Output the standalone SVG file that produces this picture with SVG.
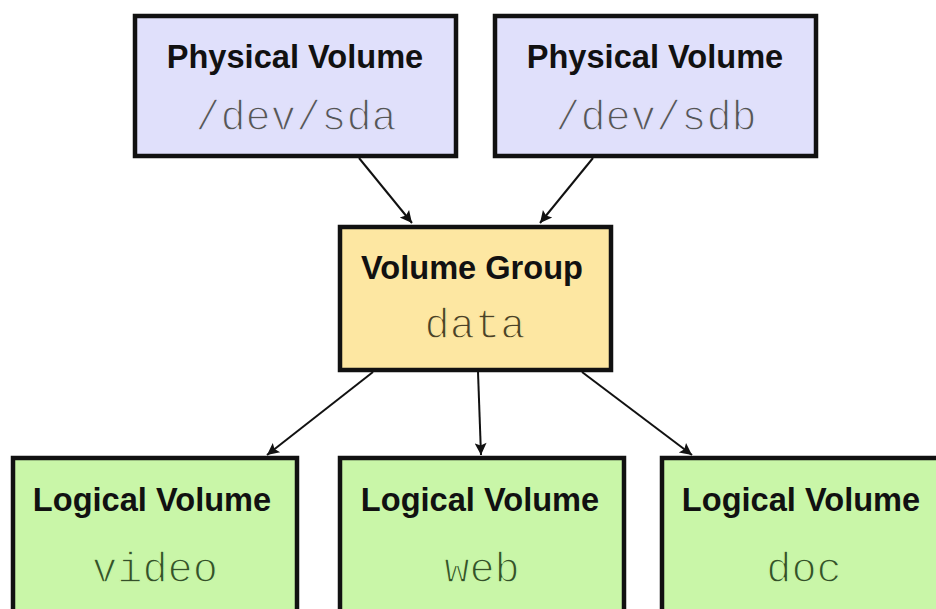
<svg xmlns="http://www.w3.org/2000/svg" width="936" height="609" viewBox="0 0 936 609">
  <defs>
    <marker id="arrow" viewBox="0 0 10 10" refX="10" refY="5" markerWidth="7" markerHeight="6" markerUnits="strokeWidth" orient="auto">
      <path d="M0,0 L10,5 L0,10 L2,5 Z" fill="#111"/>
    </marker>
    <style>
      .box { stroke: #111; stroke-width: 4.5; }
      .pv { fill: #e0e0fb; }
      .vg { fill: #fde7a2; }
      .lv { fill: #c9f6a8; }
      .title { font-family: "Liberation Sans", Arial, sans-serif; font-weight: bold; font-size: 32.6px; fill: #111; text-anchor: middle; }
      .name { font-family: "Liberation Mono", "Courier New", monospace; font-size: 42px; text-anchor: middle; stroke-width: 1.3px; }
      .pv-name { fill: #555; stroke: #e0e0fb; }
      .vg-name { fill: #4a4128; stroke: #fde7a2; }
      .lv-name { fill: #35502a; stroke: #c9f6a8; }
      .edge { stroke: #111; stroke-width: 2; fill: none; marker-end: url(#arrow); }
    </style>
  </defs>

  <rect width="936" height="609" fill="#ffffff"/>

  <!-- physical volumes -->
  <g id="pv-sda">
    <rect class="box pv" x="135" y="16" width="321" height="140"/>
    <text class="title" x="295" y="68">Physical Volume</text>
    <text class="name pv-name" x="296" y="130">/dev/sda</text>
  </g>
  <g id="pv-sdb">
    <rect class="box pv" x="495" y="16" width="321" height="140"/>
    <text class="title" x="655" y="68">Physical Volume</text>
    <text class="name pv-name" x="656" y="130">/dev/sdb</text>
  </g>

  <!-- volume group -->
  <g id="vg-data">
    <rect class="box vg" x="340" y="227" width="271" height="143"/>
    <text class="title" x="472" y="279">Volume Group</text>
    <text class="name vg-name" x="475" y="338">data</text>
  </g>

  <!-- logical volumes -->
  <g id="lv-video">
    <rect class="box lv" x="13" y="458" width="284" height="170"/>
    <text class="title" x="152" y="511">Logical Volume</text>
    <text class="name lv-name" x="155" y="582">video</text>
  </g>
  <g id="lv-web">
    <rect class="box lv" x="340" y="458" width="284" height="170"/>
    <text class="title" x="480" y="511">Logical Volume</text>
    <text class="name lv-name" x="482" y="582">web</text>
  </g>
  <g id="lv-doc">
    <rect class="box lv" x="662" y="458" width="284" height="170"/>
    <text class="title" x="801" y="511">Logical Volume</text>
    <text class="name lv-name" x="804" y="582">doc</text>
  </g>

  <!-- connectors -->
  <g id="edges">
    <line class="edge" x1="359" y1="158" x2="412" y2="223"/>
    <line class="edge" x1="593" y1="158" x2="540" y2="223"/>
    <line class="edge" x1="373" y1="372" x2="267" y2="455"/>
    <line class="edge" x1="478" y1="372" x2="481" y2="455"/>
    <line class="edge" x1="582" y1="372" x2="692" y2="455"/>
  </g>
</svg>
